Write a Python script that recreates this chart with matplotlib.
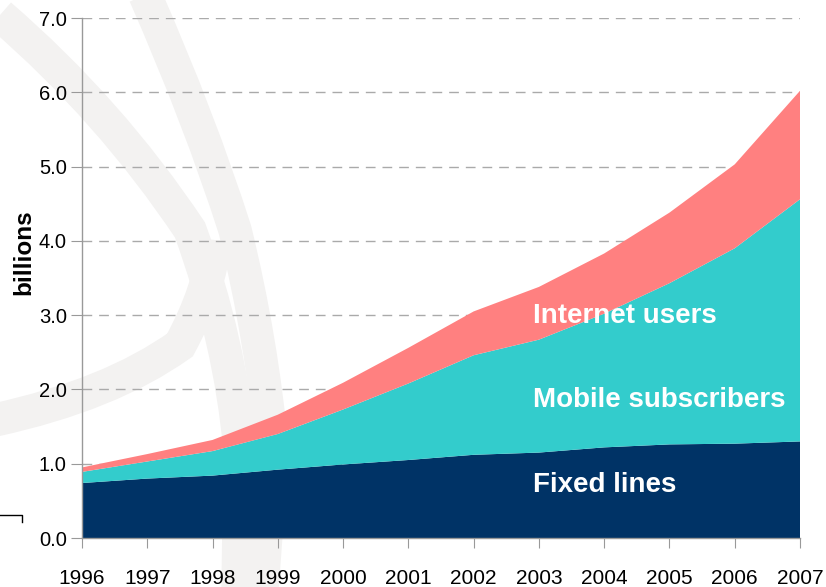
import matplotlib.pyplot as plt
from matplotlib.path import Path
from matplotlib.patches import PathPatch
from matplotlib.lines import Line2D

# ======================
# DATA (billions)
# ======================
years = [1996, 1997, 1998, 1999, 2000, 2001, 2002, 2003, 2004, 2005, 2006, 2007]
fixed_lines = [0.74, 0.80, 0.84, 0.92, 0.99, 1.05, 1.12, 1.15, 1.22, 1.26, 1.27, 1.30]
mobile_top = [0.89, 1.03, 1.17, 1.40, 1.73, 2.08, 2.46, 2.67, 3.02, 3.43, 3.90, 4.56]
total_top = [0.95, 1.13, 1.32, 1.66, 2.09, 2.56, 3.05, 3.38, 3.83, 4.38, 5.03, 6.02]

# layer thicknesses for the stack
mobile = [m - f for m, f in zip(mobile_top, fixed_lines)]
internet = [t - m for t, m in zip(total_top, mobile_top)]

labels = ["Fixed lines", "Mobile subscribers", "Internet users"]
colors = ["#003366", "#33CCCC", "#FF8080"]
yticks = [0, 1, 2, 3, 4, 5, 6, 7]

font = ["Liberation Sans", "DejaVu Sans"]
plt.rcParams["font.family"] = font

W, H = 826, 587
fig = plt.figure(figsize=(W / 100, H / 100), dpi=100)

# ======================
# BACKGROUND SWIRLS
# ======================
bg = fig.add_axes([0, 0, 1, 1], zorder=0)
bg.set_xlim(0, W)
bg.set_ylim(H, 0)
bg.axis("off")
swirls = [
    [(0, 15), (110, 110), (190, 230), (230, 340), (240, 450), (238, 590)],
    [(145, -5), (200, 120), (235, 230), (262, 340), (272, 450), (262, 590)],
    [(-5, 420), (110, 395), (180, 345), (210, 290), (215, 240)],
]
for pts in swirls:
    codes = [Path.MOVETO] + [Path.CURVE3] * (len(pts) - 1)
    if len(pts) % 2 == 0:
        codes[-1] = Path.LINETO
    bg.add_patch(PathPatch(Path(pts, codes), fill=False, edgecolor="#f3f2f1",
                           lw=24, capstyle="butt"))
# little bracket at bottom left
fig.add_artist(Line2D([0, 22 / W, 22 / W], [1 - 515 / H, 1 - 515 / H, 1 - 522 / H],
                      color="black", lw=1))

# ======================
# MAIN AXES
# ======================
ax = fig.add_axes([82 / W, 1 - 538 / H, 718 / W, 520 / H], zorder=1)
ax.patch.set_alpha(0)
ax.stackplot(years, fixed_lines, mobile, internet, colors=colors, labels=labels, lw=0)

ax.set_xlim(1996, 2007)
ax.set_ylim(0, 7)
ax.set_xticks(years)
ax.set_xticklabels([str(y) for y in years], fontsize=15)
ax.set_yticks(yticks)
ax.set_yticklabels([f"{v:.1f}" for v in yticks], fontsize=14.5)
ax.tick_params(axis="x", direction="out", length=7, color="#999999", pad=15)
ax.tick_params(axis="y", direction="out", length=8, color="#999999", pad=3)

for s in ["top", "right"]:
    ax.spines[s].set_visible(False)
for s in ["left", "bottom"]:
    ax.spines[s].set_color("#999999")
    ax.spines[s].set_linewidth(1)

for v in yticks[1:]:
    ax.axhline(v, color="#aaaaaa", lw=1, ls=(0, (7, 5)), zorder=0.5)

# series labels inside the areas
txt = dict(color="white", fontsize=20, fontweight="bold", va="baseline")
ax.text(2002.91, 2.90, "Internet users", **txt)
ax.text(2002.91, 1.77, "Mobile subscribers", **txt)
ax.text(2002.91, 0.62, "Fixed lines", **txt)

fig.text(24 / W, 1 - 252 / H, "billions", rotation=90, ha="center", va="center",
         fontsize=17.5, fontweight="bold")

plt.savefig("out.png", dpi=100)
plt.close()
